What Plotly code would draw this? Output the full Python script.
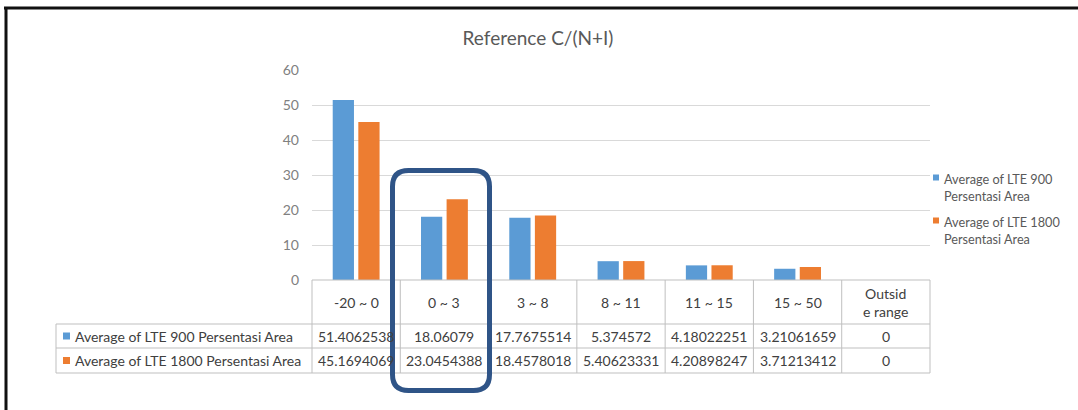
import plotly.graph_objects as go

# ---------------- data ----------------
categories = ["-20 ~ 0", "0 ~ 3", "3 ~ 8", "8 ~ 11", "11 ~ 15", "15 ~ 50", "Outside range"]
header_labels = ["-20 ~ 0", "0 ~ 3", "3 ~ 8", "8 ~ 11", "11 ~ 15", "15 ~ 50", "Outsid<br>e range"]
series_names = ["Average of LTE 900 Persentasi Area", "Average of LTE 1800 Persentasi Area"]
lte900 = [51.4062538, 18.06079, 17.7675514, 5.374572, 4.18022251, 3.21061659, 0]
lte1800 = [45.1694069, 23.0454388, 18.4578018, 5.40623331, 4.20898247, 3.71213412, 0]
y_ticks = [0, 10, 20, 30, 40, 50, 60]
title_text = "Reference C/(N+I)"

colors = ["#5B9BD5", "#ED7D31"]
series_values = [lte900, lte1800]

W, H = 1078, 410
L, R, T, B = 312, 930, 70, 280  # plot area in pixels


def px(x):
    return (x - L) / (R - L)


def py(y):
    return (B - y) / (B - T)


FONT = "Lato, 'Open Sans', sans-serif"
TXT = "#404040"
GRID = "#D9D9D9"
TBL = "#BFBFBF"

fig = go.Figure()
for name, vals, col in zip(series_names, series_values, colors):
    fig.add_trace(go.Bar(x=categories, y=vals, name=name, marker=dict(color=col, line=dict(width=0)),
                         showlegend=False))

shapes = []
annotations = []

# ---- outer frame ----
shapes.append(dict(type="line", xref="paper", yref="paper", x0=px(4), x1=px(1078), y0=py(8), y1=py(8),
                   line=dict(color="#111111", width=3)))
shapes.append(dict(type="line", xref="paper", yref="paper", x0=px(6), x1=px(6), y0=py(7), y1=py(410),
                   line=dict(color="#111111", width=3)))

# ---- data table grid ----
row_top, row_h1, row_h2, row_bot = 280, 324, 348, 373
left_col = 56
col_w = (R - L) / len(categories)
hlines = [(L, row_top), (left_col, row_h1), (left_col, row_h2), (left_col, row_bot)]
for x0, y in hlines:
    shapes.append(dict(type="line", xref="paper", yref="paper", x0=px(x0), x1=px(R), y0=py(y), y1=py(y),
                       line=dict(color=TBL, width=1)))
for i in range(len(categories) + 1):
    x = L + i * col_w
    shapes.append(dict(type="line", xref="paper", yref="paper", x0=px(x), x1=px(x), y0=py(row_top),
                       y1=py(row_bot), line=dict(color=TBL, width=1)))
shapes.append(dict(type="line", xref="paper", yref="paper", x0=px(left_col), x1=px(left_col), y0=py(row_h1),
                   y1=py(row_bot), line=dict(color=TBL, width=1)))

# header labels
for cat, lab in zip(categories, header_labels):
    annotations.append(dict(x=cat, xref="x", y=py(302), yref="paper", text=lab, showarrow=False,
                            font=dict(family=FONT, size=14, color=TXT), xanchor="center", yanchor="middle"))

# row labels + values
row_centers = [336, 360.5]
for name, vals, col, yc in zip(series_names, series_values, colors, row_centers):
    shapes.append(dict(type="rect", xref="paper", yref="paper", x0=px(63), x1=px(70), y0=py(yc - 3.5),
                       y1=py(yc + 3.5), fillcolor=col, line=dict(width=0)))
    annotations.append(dict(x=px(73), xref="paper", y=py(yc), yref="paper", text=name, showarrow=False,
                            font=dict(family=FONT, size=14, color=TXT), xanchor="left", yanchor="middle"))
    for cat, v in zip(categories, vals):
        annotations.append(dict(x=cat, xref="x", y=py(yc), yref="paper", text="%.9g" % v, showarrow=False,
                                font=dict(family=FONT, size=14, color=TXT), xanchor="center",
                                yanchor="middle"))

# ---- legend (right) ----
leg_y = [177.5, 220.5]
for name, col, yc in zip(series_names, colors, leg_y):
    shapes.append(dict(type="rect", xref="paper", yref="paper", x0=px(933), x1=px(939), y0=py(yc - 3),
                       y1=py(yc + 3), fillcolor=col, line=dict(width=0)))
    annotations.append(dict(x=px(942), xref="paper", y=py(yc - 9), yref="paper",
                            text=name.replace(" Persentasi", "<br>Persentasi"), showarrow=False, align="left",
                            font=dict(family=FONT, size=12.7, color="#595959"), xanchor="left", yanchor="top"))

# ---- highlight rounded rectangle ----
x0, x1, y0, y1, r = 392.5, 489.5, 170.5, 390.5, 16
path = (f"M {px(x0 + r)},{py(y0)} L {px(x1 - r)},{py(y0)} Q {px(x1)},{py(y0)} {px(x1)},{py(y0 + r)} "
        f"L {px(x1)},{py(y1 - r)} Q {px(x1)},{py(y1)} {px(x1 - r)},{py(y1)} "
        f"L {px(x0 + r)},{py(y1)} Q {px(x0)},{py(y1)} {px(x0)},{py(y1 - r)} "
        f"L {px(x0)},{py(y0 + r)} Q {px(x0)},{py(y0)} {px(x0 + r)},{py(y0)} Z")
shapes.append(dict(type="path", xref="paper", yref="paper", path=path, layer="above",
                   line=dict(color="#2F5487", width=5)))

fig.update_layout(
    width=W, height=H,
    margin=dict(l=L, r=W - R, t=T, b=H - B, pad=0),
    paper_bgcolor="white", plot_bgcolor="white",
    font=dict(family=FONT, color=TXT),
    title=dict(text=title_text, x=538 / W, xanchor="center", xref="container", y=1 - 38 / H,
               yanchor="middle", yref="container",
               font=dict(family=FONT, size=19, color="#595959")),
    barmode="group", bargap=0.42, bargroupgap=0.17,
    xaxis=dict(showticklabels=False, showgrid=False, zeroline=False, showline=False, ticks="",
               range=[-0.5, len(categories) - 0.5]),
    yaxis=dict(range=[0, 60], tickvals=y_ticks, showgrid=True, gridcolor=GRID, gridwidth=1, zeroline=False,
               showline=False, ticks="", ticklabelstandoff=12,
               tickfont=dict(family=FONT, size=14, color="#808080")),
    shapes=shapes, annotations=annotations,
)

fig.write_html("out.html", config={"displayModeBar": False},
               post_script="document.body.style.margin='0';")
